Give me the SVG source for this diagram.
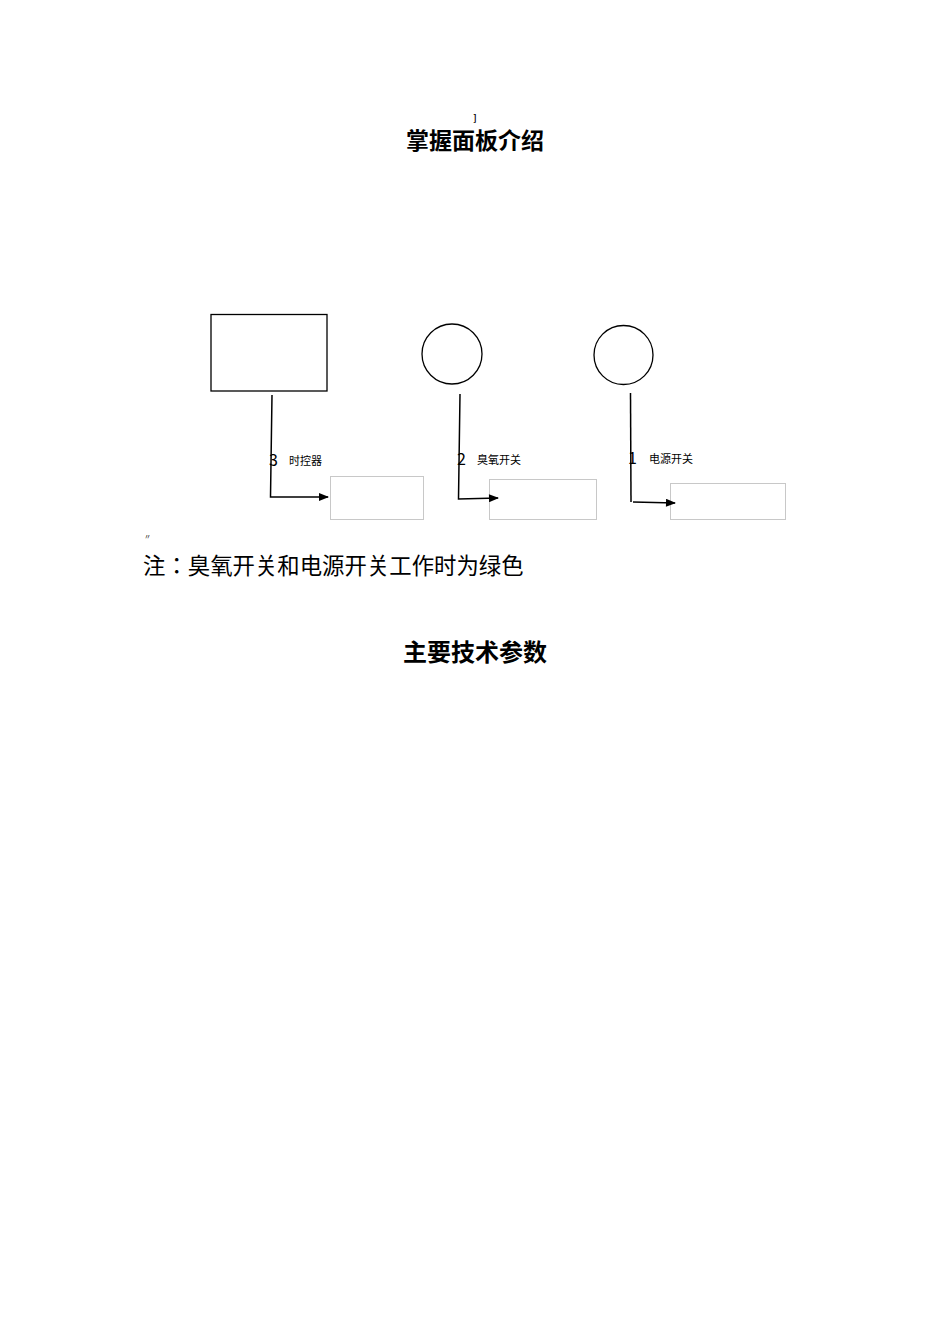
<svg xmlns="http://www.w3.org/2000/svg" width="950" height="1344" viewBox="0 0 950 1344">
<style>
.t{font-family:"Noto Sans CJK SC","Noto Sans",sans-serif;fill:#000}
.j{font-family:"Noto Sans CJK JP","Noto Sans CJK SC",sans-serif}
.b{font-weight:bold}
.node{fill:#fff;stroke:#000;stroke-width:1.3}
.box{fill:#fff;stroke:#c8c8c8;stroke-width:1}
.con{fill:none;stroke:#000;stroke-width:1.5}
</style>
<defs>
<marker id="arr" viewBox="0 0 10 8" refX="9" refY="4" markerWidth="11" markerHeight="8" markerUnits="userSpaceOnUse" orient="auto">
<path d="M0,0 L10,4 L0,8 z" fill="#000"/>
</marker>
</defs>
<rect width="950" height="1344" fill="#fff"/>
<text class="t b" x="475" y="121" font-size="9" text-anchor="middle">]</text>
<text class="t b" x="475" y="149" font-size="23" text-anchor="middle">掌握面板介绍</text>
<g id="timer"><rect class="node" x="211" y="314.5" width="116" height="76.5"/></g>
<g id="ozone-switch"><circle class="node" cx="452" cy="354" r="30"/></g>
<g id="power-switch"><circle class="node" cx="623.5" cy="355" r="29.5"/></g>
<g id="label-box-3"><rect class="box" x="330.5" y="476.5" width="93" height="43"/></g>
<g id="label-box-2"><rect class="box" x="489.5" y="479.5" width="107" height="40"/></g>
<g id="label-box-1"><rect class="box" x="670.5" y="483.5" width="115" height="36"/></g>
<g id="connectors">
<polyline class="con" points="272,395 270.5,497 328,497" marker-end="url(#arr)"/>
<polyline class="con" points="460,394 458.5,499 498,498" marker-end="url(#arr)"/>
<polyline class="con" points="630.5,393 631,502"/>
<line class="con" x1="633" y1="502" x2="675" y2="503" marker-end="url(#arr)"/>
</g>
<text class="t" x="269" y="466" font-size="16">3</text>
<text class="t" x="289" y="465" font-size="11">时控器</text>
<text class="t" x="457" y="465" font-size="16">2</text>
<text class="t" x="477" y="464" font-size="11">臭氧开关</text>
<text class="t" x="628" y="464" font-size="16">1</text>
<text class="t" x="649" y="463" font-size="11">电源开关</text>
<text class="t" x="144" y="539" font-size="7">〃</text>
<text class="t j" x="143" y="574" font-size="22.4">注：臭氧开关和电源开关工作时为绿色</text>
<text class="t b" x="475" y="661" font-size="24" text-anchor="middle">主要技术参数</text>
</svg>
